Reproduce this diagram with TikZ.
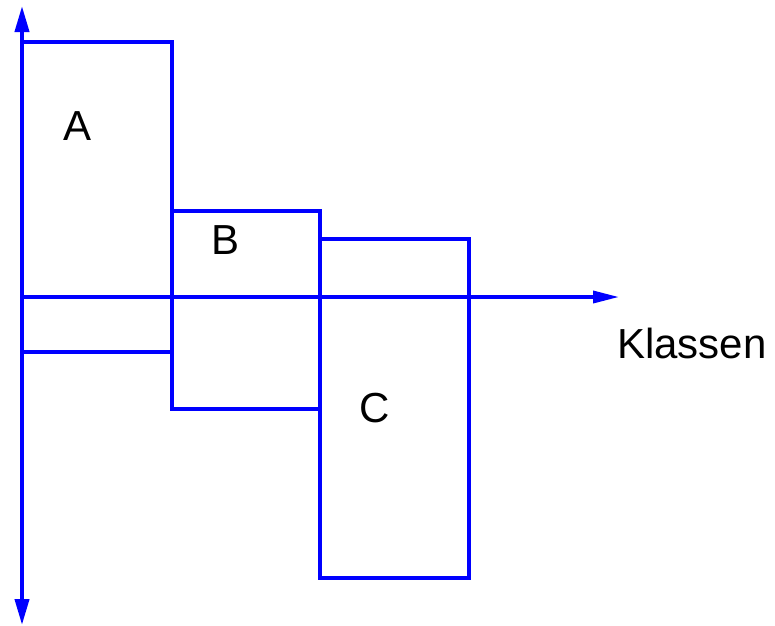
\documentclass[tikz,border=0pt]{standalone}
\usepackage{fontspec}
\setmainfont{Liberation Sans}
\usetikzlibrary{arrows.meta}
\begin{document}
\begin{tikzpicture}[x=1pt,y=-1pt,
  bar/.style={draw=blue,line width=4pt},
  axis/.style={draw=blue,line width=4pt,-{Triangle[length=26pt,width=14pt]}},
  lbl/.style={font=\fontsize{42}{48}\selectfont,text=black,inner sep=0pt}]
\useasboundingbox (0,0) rectangle (775,625);
% columns of the three classes
\draw[bar] (22,42) rectangle (172,352);
\draw[bar] (172,211) rectangle (320,409);
\draw[bar] (320,239) rectangle (469,578);
% axes
\coordinate (o) at (22,297);
\coordinate (top) at (22,6);
\coordinate (bot) at (22,625);
\coordinate (right) at (619,297);
\draw[axis] (o) -- (top);
\draw[axis] (o) -- (bot);
\draw[axis,line width=3.5pt,-{Triangle[length=26pt,width=12pt]}] (o) -- (right);
% labels
\node[lbl] (a) at (78,126) {A};
\node[lbl] (b) at (226,240) {B};
\node[lbl] (c) at (375,408) {C};
\node[lbl] (k) at (692,343) {Klassen};
\end{tikzpicture}
\end{document}
